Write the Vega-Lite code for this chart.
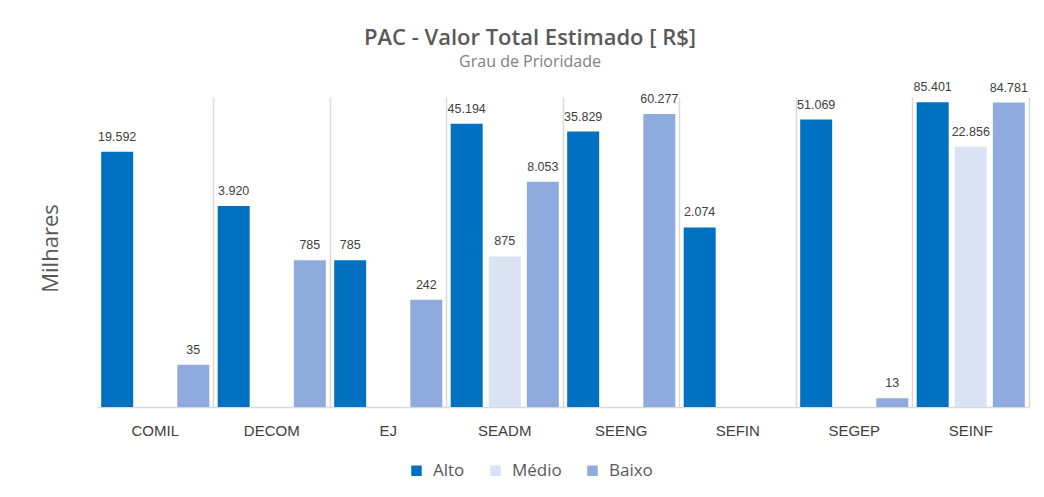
{
  "$schema": "https://vega.github.io/schema/vega-lite/v6.json",
  "autosize": "none",
  "width": 932,
  "height": 310,
  "padding": {"left": 97, "top": 97, "right": 15, "bottom": 90},
  "background": "white",
  "config": {
    "locale": {"number": {"decimal": ",", "thousands": ".", "grouping": [3], "currency": ["R$", ""]}},
    "view": {"stroke": null},
    "font": "Open Sans"
  },
  "title": {
    "text": "PAC - Valor Total Estimado [ R$]",
    "subtitle": "Grau de Prioridade",
    "anchor": "middle",
    "frame": "group",
    "dx": -33,
    "fontSize": 22,
    "fontWeight": 600,
    "color": "#595959",
    "subtitleFontSize": 16,
    "subtitleColor": "#7f7f7f",
    "subtitlePadding": 4,
    "offset": 10
  },
  "data": {
    "values": [
      {"setor": "COMIL", "grau": "Alto", "valor": 19592},
      {"setor": "COMIL", "grau": "Baixo", "valor": 35},
      {"setor": "DECOM", "grau": "Alto", "valor": 3920},
      {"setor": "DECOM", "grau": "Baixo", "valor": 785},
      {"setor": "EJ", "grau": "Alto", "valor": 785},
      {"setor": "EJ", "grau": "Baixo", "valor": 242},
      {"setor": "SEADM", "grau": "Alto", "valor": 45194},
      {"setor": "SEADM", "grau": "Médio", "valor": 875},
      {"setor": "SEADM", "grau": "Baixo", "valor": 8053},
      {"setor": "SEENG", "grau": "Alto", "valor": 35829},
      {"setor": "SEENG", "grau": "Baixo", "valor": 60277},
      {"setor": "SEFIN", "grau": "Alto", "valor": 2074},
      {"setor": "SEGEP", "grau": "Alto", "valor": 51069},
      {"setor": "SEGEP", "grau": "Baixo", "valor": 13},
      {"setor": "SEINF", "grau": "Alto", "valor": 85401},
      {"setor": "SEINF", "grau": "Médio", "valor": 22856},
      {"setor": "SEINF", "grau": "Baixo", "valor": 84781}
    ]
  },
  "encoding": {
    "x": {
      "field": "setor",
      "type": "nominal",
      "sort": ["COMIL", "DECOM", "EJ", "SEADM", "SEENG", "SEFIN", "SEGEP", "SEINF"],
      "scale": {"paddingInner": 0, "paddingOuter": 0},
      "axis": {
        "title": null,
        "labelAngle": 0,
        "labelFontSize": 15,
        "labelColor": "#404040",
        "labelFont": "Liberation Sans",
        "labelPadding": 16,
        "ticks": false,
        "domainColor": "#d9d9d9",
        "domainWidth": 1.5,
        "grid": true,
        "gridColor": "#d9d9d9",
        "gridWidth": 1.5,
        "bandPosition": 1
      }
    },
    "xOffset": {
      "field": "grau",
      "type": "nominal",
      "scale": {"domain": ["Alto", "Médio", "Baixo"], "paddingInner": 0.16, "paddingOuter": 0.11}
    },
    "y": {
      "field": "valor",
      "type": "quantitative",
      "stack": null,
      "scale": {"type": "log", "domain": [10, 100000], "nice": false},
      "axis": {
        "title": "Milhares",
        "titleFontSize": 22,
        "titleFontWeight": "normal",
        "titleColor": "#595959",
        "titleX": -40,
        "titleY": 151,
        "titleAngle": -90,
        "titleBaseline": "alphabetic",
        "labels": false,
        "ticks": false,
        "domain": false,
        "grid": false
      }
    }
  },
  "layer": [
    {
      "mark": {"type": "bar"},
      "encoding": {
        "color": {
          "field": "grau",
          "type": "nominal",
          "scale": {"domain": ["Alto", "Médio", "Baixo"], "range": ["#0070C0", "#DAE3F3", "#8FAADC"]},
          "legend": {
            "title": null,
            "orient": "none",
            "direction": "horizontal",
            "legendX": 311,
            "legendY": 365,
            "symbolType": "square",
            "symbolSize": 110,
            "symbolStrokeWidth": 0,
            "labelFontSize": 17,
            "labelColor": "#595959",
            "columnPadding": 22,
            "labelOffset": 8
          }
        }
      }
    },
    {
      "mark": {"type": "text", "baseline": "bottom", "dy": -8, "fontSize": 12.5, "color": "#404040", "font": "Liberation Sans"},
      "encoding": {
        "text": {"field": "valor", "type": "quantitative", "format": ",d"}
      }
    }
  ]
}
